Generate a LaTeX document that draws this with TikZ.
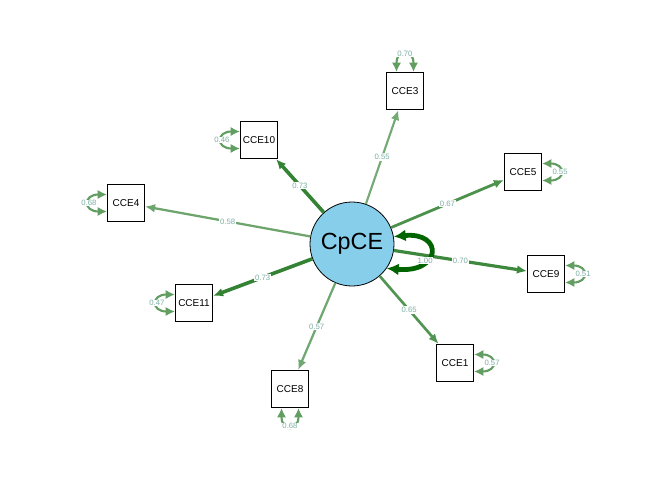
\documentclass[tikz,border=0pt]{standalone}
\usepackage{fontspec}
\setmainfont{Liberation Sans}
\usetikzlibrary{arrows.meta}
\definecolor{lvgreen}{RGB}{52,130,52}
\definecolor{resgreen}{RGB}{98,158,98}
\definecolor{loopgreen}{RGB}{0,100,0}
\definecolor{latblue}{RGB}{135,206,235}
\definecolor{numcol}{RGB}{125,175,165}
\begin{document}
\begin{tikzpicture}[x=0.75pt, y=-0.75pt,
    item/.style={rectangle, draw=black, fill=white, line width=0.6pt, minimum size=28pt, inner sep=0pt, font=\fontsize{7.5}{9}\selectfont},
    latent/.style={circle, draw=black, fill=latblue, line width=0.6pt, minimum size=63pt, inner sep=0pt, font=\fontsize{17.5}{20}\selectfont},
    load/.style 2 args={draw=lvgreen!#2!white, line width=#1, -{Latex[length=7.5pt,width=6.5pt]}},
    resid/.style={draw=resgreen, line width=1.6pt, {Latex[length=7pt,width=7pt]}-{Latex[length=7pt,width=7pt]}},
    selfl/.style={draw=loopgreen, line width=3.6pt, {Latex[length=9pt,width=9pt]}-{Latex[length=9pt,width=9pt]}},
    num/.style={text=numcol, fill=white, inner sep=0.6pt, font=\fontsize{5.8}{6}\selectfont},
    rnum/.style={text=numcol, fill=white, inner sep=0.4pt, font=\fontsize{5.8}{6}\selectfont}]
    \useasboundingbox (0,0) rectangle (672,480);

    \node[latent] (cpce) at (352,244) {CpCE};

    \node[item] (cce3) at (405,91) {CCE3};
    \node[item] (cce10) at (259,140) {CCE10};
    \node[item] (cce4) at (126,203) {CCE4};
    \node[item] (cce5) at (523,172) {CCE5};
    \node[item] (cce9) at (546,274) {CCE9};
    \node[item] (cce11) at (194,303) {CCE11};
    \node[item] (cce1) at (455,363) {CCE1};
    \node[item] (cce8) at (290,389) {CCE8};

    \draw[load={1.6pt}{68}] (cpce) -- (cce3) node[num, midway] {0.55};
    \draw[load={2.7pt}{100}] (cpce) -- (cce10) node[num, midway] {0.73};
    \draw[load={1.7pt}{72}] (cpce) -- (cce4) node[num, midway] {0.58};
    \draw[load={2.1pt}{88}] (cpce) -- (cce5) node[num, midway] {0.67};
    \draw[load={2.4pt}{95}] (cpce) -- (cce9) node[num, midway] {0.70};
    \draw[load={2.7pt}{100}] (cpce) -- (cce11) node[num, midway] {0.73};
    \draw[load={2pt}{85}] (cpce) -- (cce1) node[num, midway] {0.65};
    \draw[load={1.7pt}{70}] (cpce) -- (cce8) node[num, midway] {0.57};

    \draw[resid] (cce3.114) .. controls +(0,-24) and +(0,-24) .. (cce3.66) node[rnum, midway] {0.70};
    \draw[resid] (cce10.156) .. controls +(-24,0) and +(-24,0) .. (cce10.204) node[rnum, midway] {0.46};
    \draw[resid] (cce4.156) .. controls +(-24,0) and +(-24,0) .. (cce4.204) node[rnum, midway] {0.68};
    \draw[resid] (cce5.24) .. controls +(24,0) and +(24,0) .. (cce5.336) node[rnum, midway] {0.55};
    \draw[resid] (cce9.24) .. controls +(24,0) and +(24,0) .. (cce9.336) node[rnum, midway] {0.51};
    \draw[resid] (cce11.156) .. controls +(-24,0) and +(-24,0) .. (cce11.204) node[rnum, midway] {0.47};
    \draw[resid] (cce1.24) .. controls +(24,0) and +(24,0) .. (cce1.336) node[rnum, midway] {0.57};
    \draw[resid] (cce8.246) .. controls +(0,24) and +(0,24) .. (cce8.294) node[rnum, midway] {0.68};

    \draw[selfl] (cpce.10) .. controls +(50,-5) and +(55,5) .. (cpce.325) node[num, pos=0.65] {1.00};
\end{tikzpicture}
\end{document}
